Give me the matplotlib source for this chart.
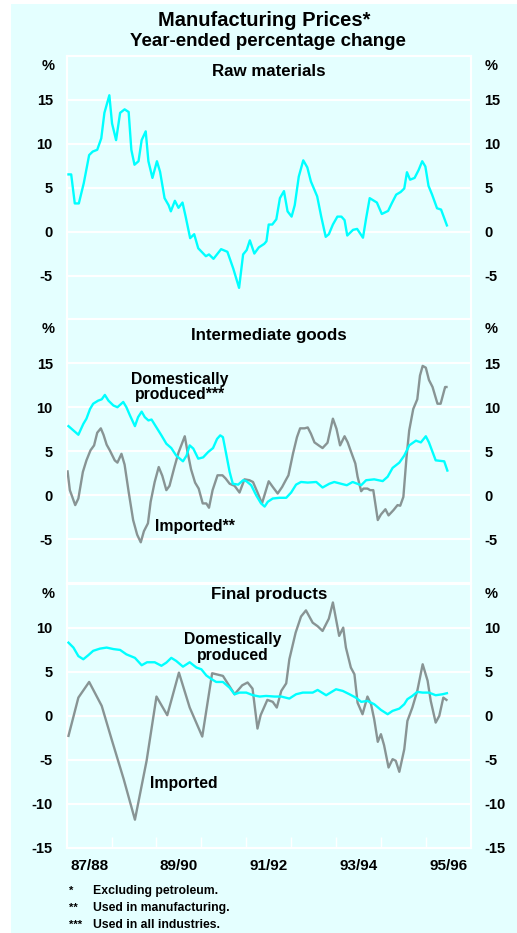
import matplotlib
matplotlib.use("Agg")
import matplotlib.pyplot as plt
from matplotlib.patches import Rectangle

plt.rcParams['font.family'] = ['Liberation Sans', 'DejaVu Sans']
plt.rcParams['font.weight'] = 'bold'

# ---------------- data (decimal years, % change) ----------------
raw_t = [1987.54, 1987.60, 1987.68, 1987.77, 1987.88, 1988.00, 1988.08, 1988.18, 1988.27, 1988.34,
         1988.45, 1988.51, 1988.60, 1988.69, 1988.79, 1988.88, 1988.94, 1989.01, 1989.10, 1989.17,
         1989.26, 1989.32, 1989.41, 1989.51, 1989.58, 1989.68, 1989.77, 1989.82, 1989.91, 1989.99,
         1990.08, 1990.15, 1990.25, 1990.34, 1990.43, 1990.60, 1990.67, 1990.77, 1990.94, 1991.08,
         1991.21, 1991.34, 1991.43, 1991.51, 1991.58, 1991.68, 1991.78, 1991.90, 1991.95, 1992.00,
         1992.08, 1992.17, 1992.25, 1992.34, 1992.42, 1992.51, 1992.58, 1992.67, 1992.77, 1992.86,
         1992.94, 1993.08, 1993.17, 1993.27, 1993.34, 1993.43, 1993.53, 1993.62, 1993.69, 1993.75,
         1993.88, 1993.97, 1994.10, 1994.17, 1994.25, 1994.41, 1994.52, 1994.66, 1994.74, 1994.84,
         1994.94, 1995.02, 1995.08, 1995.15, 1995.25, 1995.34, 1995.42, 1995.49, 1995.56, 1995.64,
         1995.75, 1995.84, 1995.97]
raw_v = [6.5, 6.5, 3.2, 3.2, 5.5, 8.7, 9.1, 9.3, 10.6, 13.5,
         15.5, 12.3, 10.4, 13.5, 13.9, 13.6, 9.3, 7.6, 8.0, 10.4,
         11.4, 8.0, 6.1, 8.0, 6.8, 3.8, 3.0, 2.3, 3.5, 2.7,
         3.3, 1.7, -0.75, -0.3, -1.9, -2.8, -2.6, -3.1, -2.0, -2.3,
         -4.2, -6.4, -2.6, -2.1, -1.0, -2.5, -1.8, -1.4, -1.1, 0.8,
         0.8, 1.4, 3.8, 4.6, 2.3, 1.7, 3.0, 6.25, 8.1, 7.3,
         5.7, 4.0, 1.7, -0.6, -0.3, 0.8, 1.7, 1.7, 1.3, -0.45,
         0.2, 0.3, -0.7, 1.5, 3.8, 3.3, 2.0, 2.35, 3.2, 4.2,
         4.5, 4.9, 6.75, 5.9, 6.1, 7.0, 8.0, 7.4, 5.2, 4.2,
         2.65, 2.5, 0.7]

int_dom_t = [1987.54, 1987.65, 1987.76, 1987.87, 1987.94, 1988.02, 1988.09, 1988.20, 1988.28, 1988.35,
             1988.43, 1988.54, 1988.63, 1988.76, 1988.83, 1988.91, 1989.02, 1989.09, 1989.17, 1989.24,
             1989.32, 1989.39, 1989.50, 1989.61, 1989.72, 1989.83, 1989.94, 1990.09, 1990.17, 1990.24,
             1990.32, 1990.43, 1990.54, 1990.65, 1990.76, 1990.85, 1990.92, 1990.98, 1991.06, 1991.13,
             1991.20, 1991.32, 1991.43, 1991.50, 1991.61, 1991.72, 1991.83, 1991.91, 1991.98, 1992.09,
             1992.24, 1992.39, 1992.50, 1992.61, 1992.72, 1992.87, 1993.06, 1993.20, 1993.35, 1993.46,
             1993.61, 1993.74, 1993.87, 1994.06, 1994.17, 1994.35, 1994.54, 1994.65, 1994.76, 1994.91,
             1995.02, 1995.13, 1995.28, 1995.39, 1995.50, 1995.57, 1995.72, 1995.91, 1995.98]
int_dom_v = [7.85, 7.36, 6.87, 8.1, 8.7, 9.8, 10.4, 10.75, 10.9, 11.4,
             10.75, 10.2, 10.0, 10.6, 10.0, 9.06, 7.85, 8.87, 9.5, 8.87,
             8.5, 8.6, 7.7, 6.8, 5.85, 5.36, 4.5, 3.85, 4.5, 5.66,
             5.3, 4.15, 4.3, 4.9, 5.36, 6.4, 6.8, 6.6, 4.5, 2.64,
             1.3, 1.2, 1.7, 1.6, 1.13, 0.0, -0.94, -1.3, -0.75, -0.38,
             -0.3, -0.3, 0.3, 1.2, 1.5, 1.43, 1.5, 0.87, 1.3, 1.5,
             1.3, 1.13, 1.5, 1.13, 1.7, 1.8, 1.6, 2.1, 3.1, 3.7,
             4.5, 5.66, 6.2, 6.0, 6.7, 6.0, 3.96, 3.85, 2.8]

int_imp_t = [1987.52, 1987.57, 1987.69, 1987.76, 1987.86, 1987.94, 1988.03, 1988.11, 1988.18, 1988.26,
             1988.32, 1988.39, 1988.46, 1988.57, 1988.63, 1988.72, 1988.79, 1988.88, 1988.98, 1989.07,
             1989.15, 1989.22, 1989.31, 1989.37, 1989.46, 1989.55, 1989.63, 1989.72, 1989.79, 1989.90,
             1989.99, 1990.13, 1990.19, 1990.27, 1990.36, 1990.44, 1990.53, 1990.61, 1990.67, 1990.75,
             1990.86, 1990.97, 1991.04, 1991.13, 1991.24, 1991.35, 1991.46, 1991.57, 1991.65, 1991.76,
             1991.85, 1992.00, 1992.09, 1992.20, 1992.30, 1992.39, 1992.44, 1992.54, 1992.63, 1992.70,
             1992.80, 1992.87, 1992.94, 1993.02, 1993.13, 1993.20, 1993.31, 1993.43, 1993.51, 1993.59,
             1993.69, 1993.76, 1993.83, 1993.93, 1993.98, 1994.06, 1994.11, 1994.20, 1994.26, 1994.33,
             1994.43, 1994.50, 1994.60, 1994.67, 1994.78, 1994.87, 1994.93, 1995.00, 1995.07, 1995.13,
             1995.22, 1995.31, 1995.37, 1995.43, 1995.50, 1995.57, 1995.65, 1995.76, 1995.83, 1995.93,
             1995.96]
int_imp_v = [2.7, 0.57, -1.13, -0.38, 2.64, 3.96, 5.1, 5.66, 7.1, 7.6,
             6.87, 5.74, 5.1, 3.96, 3.7, 4.7, 3.47, 0.38, -2.83, -4.5,
             -5.36, -4.1, -3.2, -0.75, 1.5, 3.2, 2.2, 0.57, 1.06, 3.2,
             4.83, 6.7, 4.98, 2.94, 1.43, 0.75, -0.94, -0.94, -1.43, 0.57,
             2.26, 2.26, 1.9, 1.3, 1.06, 0.3, 1.8, 1.7, 1.5, 0.19,
             -0.94, 1.58, 0.94, 0.19, 0.94, 1.8, 2.26, 4.7, 6.6, 7.6,
             7.6, 7.7, 7.0, 6.0, 5.6, 5.36, 5.96, 8.7, 7.55, 5.66,
             6.7, 6.0, 5.0, 3.6, 2.1, 0.45, 0.75, 0.75, 0.57, 0.57,
             -2.83, -2.2, -1.6, -2.3, -1.7, -1.13, -1.2, -0.2, 4.3, 7.36,
             9.8, 10.9, 13.6, 14.7, 14.5, 13.1, 12.3, 10.4, 10.4, 12.3,
             12.3]

fin_dom_t = [1987.54, 1987.65, 1987.76, 1987.87, 1987.98, 1988.09, 1988.24, 1988.39, 1988.54, 1988.69,
             1988.83, 1989.02, 1989.17, 1989.29, 1989.46, 1989.61, 1989.72, 1989.83, 1989.94, 1990.09,
             1990.24, 1990.39, 1990.50, 1990.61, 1990.72, 1990.83, 1990.98, 1991.13, 1991.24, 1991.35,
             1991.50, 1991.65, 1991.80, 1991.94, 1992.13, 1992.28, 1992.46, 1992.61, 1992.76, 1992.98,
             1993.09, 1993.28, 1993.50, 1993.65, 1993.80, 1993.94, 1994.06, 1994.20, 1994.35, 1994.50,
             1994.65, 1994.76, 1994.91, 1995.02, 1995.09, 1995.20, 1995.31, 1995.43, 1995.57, 1995.72,
             1995.87, 1995.97]
fin_dom_v = [8.33, 7.77, 6.8, 6.44, 6.9, 7.4, 7.65, 7.77, 7.6, 7.5,
             7.0, 6.6, 5.76, 6.1, 6.1, 5.7, 6.06, 6.6, 6.25, 5.6,
             6.1, 5.5, 5.3, 4.6, 4.2, 3.86, 3.86, 3.2, 2.46, 2.65,
             2.65, 2.35, 2.2, 2.27, 2.2, 2.2, 1.97, 2.46, 2.65, 2.65,
             2.95, 2.35, 3.03, 2.84, 2.46, 2.08, 1.6, 1.7, 1.33, 0.68,
             0.19, 0.57, 0.83, 1.33, 1.9, 2.27, 2.73, 2.65, 2.65, 2.35,
             2.46, 2.58]

fin_imp_t = [1987.54, 1987.76, 1988.00, 1988.28, 1988.50, 1988.77, 1989.02, 1989.28, 1989.50, 1989.74,
             1990.00, 1990.24, 1990.52, 1990.74, 1990.98, 1991.24, 1991.41, 1991.53, 1991.64, 1991.75,
             1991.82, 1991.97, 1992.09, 1992.18, 1992.28, 1992.39, 1992.46, 1992.60, 1992.72, 1992.83,
             1992.98, 1993.09, 1993.20, 1993.34, 1993.43, 1993.57, 1993.66, 1993.72, 1993.83, 1993.91,
             1993.98, 1994.09, 1994.20, 1994.28, 1994.35, 1994.43, 1994.50, 1994.57, 1994.67, 1994.76,
             1994.83, 1994.91, 1995.02, 1995.09, 1995.20, 1995.31, 1995.43, 1995.54, 1995.61, 1995.72,
             1995.80, 1995.89, 1995.96]
fin_imp_v = [-2.27, 2.08, 3.86, 1.14, -2.65, -7.2, -11.8, -5.1, 2.2, 0.08,
             4.92, 0.95, -2.35, 4.85, 4.55, 2.46, 3.48, 3.8, 3.1, -1.44,
             0.08, 1.82, 1.6, 0.95, 2.84, 3.7, 6.44, 9.47, 11.3, 12.0,
             10.6, 10.2, 9.66, 11.06, 12.9, 9.1, 10.04, 7.77, 5.5, 4.73,
             1.5, 0.19, 2.2, 1.33, -0.38, -2.95, -2.08, -3.33, -5.87, -4.92,
             -5.1, -6.36, -3.8, -0.57, 0.95, 2.84, 5.87, 4.0, 1.7, -0.76,
             0.0, 2.08, 1.82]

year_labels = ['87/88', '89/90', '91/92', '93/94', '95/96']
year_label_pos = [1988.0, 1990.0, 1992.0, 1994.0, 1996.0]
year_bounds = [1988.5, 1989.5, 1990.5, 1991.5, 1992.5, 1993.5, 1994.5, 1995.5]

panel_titles = ['Raw materials', 'Intermediate goods', 'Final products']
panel_ylims = [(-10, 20), (-10, 20), (-15, 15)]
panel_yticks = [[-5, 0, 5, 10, 15], [-5, 0, 5, 10, 15], [-15, -10, -5, 0, 5, 10]]
panel_grid = [[-5, 0, 5, 10, 15], [-5, 0, 5, 10, 15], [-10, -5, 0, 5, 10]]

BG = '#E4FFFF'
CYAN = '#00FFFF'
GREY = '#889494'

W, H = 517, 933
fig = plt.figure(figsize=(W / 100, H / 100), dpi=100)
fig.patch.set_facecolor('white')
fig.patches.append(Rectangle((11 / W, 0), 1 - 11 / W, 1 - 4 / H, transform=fig.transFigure,
                             facecolor=BG, edgecolor='none', zorder=-10))

left = 66.7 / W
width = (470.7 - 66.7) / W
tops = [55.7, 319.3, 584.0]
title_off = [15.5, 16.5, 10.5]
ph = 263.8

axes = []
for i in range(3):
    bottom = 1 - (tops[i] + ph) / H
    ax = fig.add_axes([left, bottom, width, ph / H])
    ax.set_facecolor(BG)
    ax.set_xlim(1987.5, 1996.5)
    ax.set_ylim(*panel_ylims[i])
    for s in ax.spines.values():
        s.set_color('white')
        s.set_linewidth(1.5)
    for g in panel_grid[i]:
        ax.axhline(g, color='white', lw=1.5, zorder=1)
    ax.set_yticks(panel_yticks[i])
    ax.set_yticklabels([str(v) for v in panel_yticks[i]])
    ax.tick_params(axis='y', length=0, labelsize=10.5, left=False, right=False,
                   labelleft=True, labelright=True, pad=10)
    for lab in ax.get_yticklabels():
        lab.set_fontweight('bold')
    ax.text(-0.045, 1 - 10 / ph, '%', transform=ax.transAxes, ha='center', va='center',
            fontsize=10.5, fontweight='bold')
    ax.text(1.05, 1 - 10 / ph, '%', transform=ax.transAxes, ha='center', va='center',
            fontsize=10.5, fontweight='bold')
    ax.text(0.5, 1 - title_off[i] / ph, panel_titles[i], transform=ax.transAxes, ha='center',
            va='center', fontsize=12.2, fontweight='bold')
    if i < 2:
        ax.set_xticks([])
    else:
        ax.set_xticks(year_bounds)
        ax.set_xticklabels([])
        ax.tick_params(axis='x', which='major', direction='in', length=8, width=1, color='white')
        ax.set_xticks(year_label_pos, minor=True)
        ax.set_xticklabels(year_labels, minor=True)
        ax.tick_params(axis='x', which='minor', length=0, labelsize=11, pad=8)
        for lab in ax.get_xticklabels(minor=True):
            lab.set_fontweight('bold')
    axes.append(ax)

ax1, ax2, ax3 = axes
lw = 1.7
ax1.plot(raw_t, raw_v, color=CYAN, lw=lw, zorder=3)

ax2.plot(int_imp_t, int_imp_v, color=GREY, lw=lw, zorder=3)
ax2.plot(int_dom_t, int_dom_v, color=CYAN, lw=lw, zorder=4)
ax2.text(1990.02, 12.3, 'Domestically\nproduced***', ha='center', va='center', fontsize=11.3,
         fontweight='bold', linespacing=1.05)
ax2.text(1990.36, -3.6, 'Imported**', ha='center', va='center', fontsize=11.3, fontweight='bold')

ax3.plot(fin_imp_t, fin_imp_v, color=GREY, lw=lw, zorder=3)
ax3.plot(fin_dom_t, fin_dom_v, color=CYAN, lw=lw, zorder=4)
ax3.text(1991.2, 7.8, 'Domestically\nproduced', ha='center', va='center', fontsize=11.3,
         fontweight='bold', linespacing=1.05)
ax3.text(1990.1, -7.7, 'Imported', ha='center', va='center', fontsize=11.3, fontweight='bold')

fig.text(264 / W, 1 - 20 / H, 'Manufacturing Prices*', ha='center', va='center',
         fontsize=14.5, fontweight='bold')
fig.text(268 / W, 1 - 41.5 / H, 'Year-ended percentage change', ha='center', va='center',
         fontsize=13.5, fontweight='bold')

notes_mark = ['*', '**', '***']
notes_text = ['Excluding petroleum.', 'Used in manufacturing.', 'Used in all industries.']
for k, (m, t) in enumerate(zip(notes_mark, notes_text)):
    y = 1 - (891 + 17 * k) / H
    fig.text(69 / W, y, m, ha='left', va='center', fontsize=8, fontweight='bold')
    fig.text(93 / W, y, t, ha='left', va='center', fontsize=8.8, fontweight='bold')

fig.savefig('out.png', dpi=100, facecolor='white')
